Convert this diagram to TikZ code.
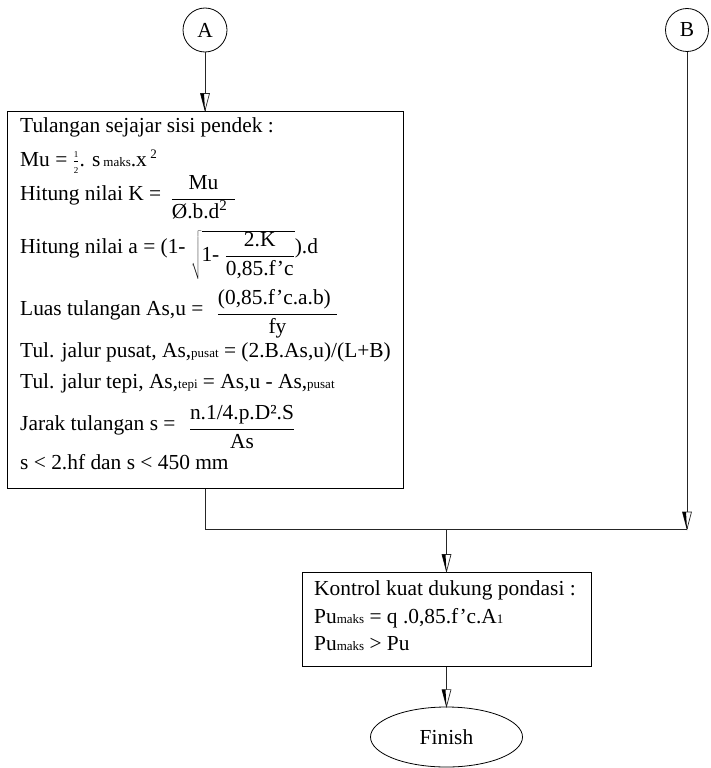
\documentclass[tikz,border=0pt]{standalone}
\usepackage{fontspec}
\setmainfont{Liberation Serif}
\usetikzlibrary{shapes.geometric,decorations.markings}

% small inline text used for indices such as "maks", "pusat", "tepi"
\newcommand{\sm}[1]{{\fontsize{13}{13}\selectfont #1}}
% fraction with text-font numerator and denominator, bar near the baseline
\newcommand{\fr}[2]{\raisebox{-4pt}{$\displaystyle\frac{\mbox{#1}}{\mbox{#2}}$}}
% tiny one-half
\newcommand{\half}{$\frac{\mbox{\fontsize{9}{9}\selectfont 1}}{\mbox{\fontsize{9}{9}\selectfont 2}}$}

\begin{document}
\begin{tikzpicture}[x=1pt,y=-1pt,
  every node/.style={font=\fontsize{21.4}{25}\selectfont},
  line/.style={line width=0.8pt, draw=black!85},
  box/.style={draw, line width=1pt, rectangle, inner sep=0pt},
  connector/.style={draw, circle, line width=0.8pt, inner sep=0pt},
  flowarrow/.style={line, postaction={decorate},
    decoration={markings, mark=at position 1 with {
      \draw[fill=white, line width=0.7pt, line join=miter]
        (0,0) -- (-17pt,4.5pt) -- (-17pt,-4.5pt) -- cycle;
      \fill[black] (0,0) -- (-17pt,-4.5pt) -- (-17pt,-1pt) -- cycle;}}},
  txt/.style={anchor=base west, inner sep=0pt},
]
\useasboundingbox (0,0) rectangle (710,768);

% frames
\node[box, minimum width=396pt, minimum height=377pt] (big) at (205,299.5) {};
\node[box, minimum width=289pt, minimum height=94pt] (ctrl) at (446.5,619) {};
\node[connector, minimum size=44pt] (A) at (205,30) {A};
\node[connector, minimum size=43pt] (B) at (687,30) {B};
\node[draw, ellipse, line width=0.8pt, minimum width=152pt, minimum height=60pt] (fin) at (446.5,737) {Finish};

% junction points
\coordinate (j) at (687,529);
\coordinate (m) at (446.5,529);

% connectors
\draw[flowarrow] (A) -- (big);
\draw[flowarrow] (B) -- (j);
\draw[line] (big) |- (j);
\draw[flowarrow] (m) -- (ctrl);
\draw[flowarrow] (ctrl) -- (fin);

% short-side reinforcement
\node[txt] (l1) at (20,132) {Tulangan sejajar sisi pendek :};
\node[txt] (l2) at (20,166) {Mu = \half. s\hspace{3pt}\sm{maks}.x\,\raisebox{8pt}{\sm{2}}};
\node[txt] (l3) at (20,200) {Hitung nilai K = \hspace{4pt}\fr{Mu}{Ø.b.d\textsuperscript{2}\hspace{8pt}}};
\node[txt] (l4) at (20,253) {Hitung nilai a = (1- \raisebox{-8pt}{$\sqrt{\mbox{1- }\displaystyle\frac{\mbox{2.K}}{\mbox{0,85.f'c}}}$}).d};
\node[txt] (l5) at (20,315) {Luas tulangan As,u = \hspace{8pt}\fr{(0,85.f'c.a.b)\hspace{6pt}}{fy}};
\node[txt] (l6) at (20,357) {Tul. jalur pusat, As,\sm{pusat} = (2.B.As,u)/(L+B)};
\node[txt] (l7) at (20,388) {Tul. jalur tepi, As,\sm{tepi} = As,u - As,\sm{pusat}};
\node[txt] (l8) at (20,430) {Jarak tulangan s = \hspace{8pt}\fr{n.1/4.p.D².S}{As}};
\node[txt] (l9) at (20,469) {s < 2.hf dan s < 450 mm};

% bearing check
\node[txt] (k1) at (314,595) {Kontrol kuat dukung pondasi :};
\node[txt] (k2) at (314,623) {Pu\sm{maks} = q .0,85.f'c.A\sm{1}};
\node[txt] (k3) at (314,650) {Pu\sm{maks} > Pu};
\end{tikzpicture}
\end{document}
